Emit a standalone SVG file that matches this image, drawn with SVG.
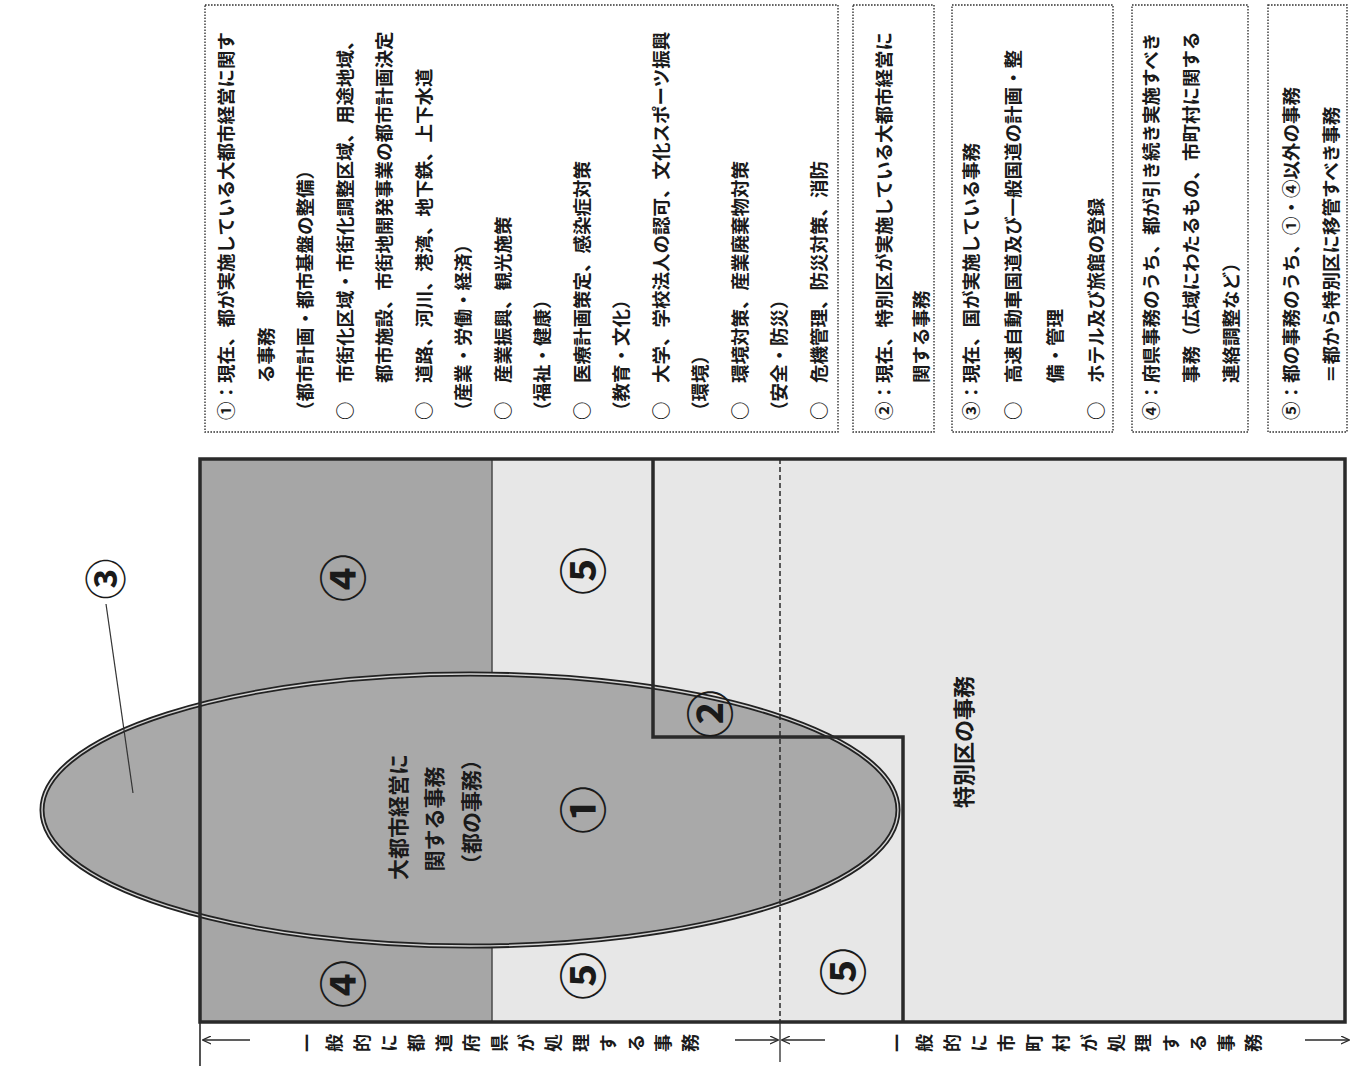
<svg xmlns="http://www.w3.org/2000/svg" width="1356" height="1066" viewBox="0 0 1356 1066">
<style>
.t{font-family:"Noto Sans CJK JP","Noto Sans CJK SC",sans-serif;fill:#1a1a1a;font-weight:bold;}
.bx{font-size:18.5px;dominant-baseline:central;}
.box{fill:#fff;stroke:#333;stroke-width:1.4;stroke-dasharray:1.6 1.4;}
.num{font-size:48px;text-anchor:middle;dominant-baseline:central;}
.mid{font-size:21px;text-anchor:middle;dominant-baseline:central;}
.lbl{font-size:18px;writing-mode:vertical-rl;letter-spacing:9.4px;}
.edge{stroke:#2a2a2a;fill:none;}
</style>
<defs>
<marker id="ah" viewBox="0 0 10 10" refX="9" refY="5" markerWidth="9" markerHeight="9" markerUnits="userSpaceOnUse" orient="auto">
<path d="M0,0.5 L9.5,5 L0,9.5" fill="none" stroke="#2a2a2a" stroke-width="1.4"/>
</marker>
</defs>
<rect width="1356" height="1066" fill="#fff"/>

<!-- text boxes -->
<g id="box1">
<rect class="box" x="205" y="5" width="633" height="427"/>
<g class="t bx">
<text transform="translate(225,420) rotate(-90)">①：現在、都が実施している大都市経営に関す</text>
<text transform="translate(264.5,383) rotate(-90)">る事務</text>
<text transform="translate(304,420) rotate(-90)">（都市計画・都市基盤の整備）</text>
<text transform="translate(343.5,420) rotate(-90)">○　市街化区域・市街化調整区域、用途地域、</text>
<text transform="translate(383,383) rotate(-90)">都市施設、市街地開発事業の都市計画決定</text>
<text transform="translate(422.5,420) rotate(-90)">○　道路、河川、港湾、地下鉄、上下水道</text>
<text transform="translate(462,420) rotate(-90)">（産業・労働・経済）</text>
<text transform="translate(501.5,420) rotate(-90)">○　産業振興、観光施策</text>
<text transform="translate(541,420) rotate(-90)">（福祉・健康）</text>
<text transform="translate(580.5,420) rotate(-90)">○　医療計画策定、感染症対策</text>
<text transform="translate(620,420) rotate(-90)">（教育・文化）</text>
<text transform="translate(659.5,420) rotate(-90)">○　大学、学校法人の認可、文化スポーツ振興</text>
<text transform="translate(699,420) rotate(-90)">（環境）</text>
<text transform="translate(738.5,420) rotate(-90)">○　環境対策、産業廃棄物対策</text>
<text transform="translate(778,420) rotate(-90)">（安全・防災）</text>
<text transform="translate(817.5,420) rotate(-90)">○　危機管理、防災対策、消防</text>
</g>
</g>
<g id="box2">
<rect class="box" x="853" y="5" width="81" height="427"/>
<g class="t bx">
<text transform="translate(883,420) rotate(-90)">②：現在、特別区が実施している大都市経営に</text>
<text transform="translate(920,383) rotate(-90)">関する事務</text>
</g>
</g>
<g id="box3">
<rect class="box" x="952" y="5" width="161" height="427"/>
<g class="t bx">
<text transform="translate(970,420) rotate(-90)">③：現在、国が実施している事務</text>
<text transform="translate(1012,420) rotate(-90)">○　高速自動車国道及び一般国道の計画・整</text>
<text transform="translate(1054,383) rotate(-90)">備・管理</text>
<text transform="translate(1095,420) rotate(-90)">○　ホテル及び旅館の登録</text>
</g>
</g>
<g id="box4">
<rect class="box" x="1132" y="5" width="116" height="427"/>
<g class="t bx">
<text transform="translate(1150,420) rotate(-90)">④：府県事務のうち、都が引き続き実施すべき</text>
<text transform="translate(1190,383) rotate(-90)">事務（広域にわたるもの、市町村に関する</text>
<text transform="translate(1230,383) rotate(-90)">連絡調整など）</text>
</g>
</g>
<g id="box5">
<rect class="box" x="1268" y="5" width="79" height="427"/>
<g class="t bx">
<text transform="translate(1290,420) rotate(-90)">⑤：都の事務のうち、①・④以外の事務</text>
<text transform="translate(1330,383) rotate(-90)">＝都から特別区に移管すべき事務</text>
</g>
</g>

<!-- diagram regions -->
<g id="region-tokubetsuku">
<rect x="492" y="459" width="853" height="563" fill="#e7e7e7"/>
<text class="t" font-size="22" text-anchor="middle" dominant-baseline="central" transform="translate(962,742) rotate(-90)">特別区の事務</text>
</g>
<g id="region-4">
<rect x="200" y="459" width="292" height="563" fill="#a6a6a6"/>
<line x1="492" y1="459" x2="492" y2="1022" stroke="#4a4a4a" stroke-width="1.5"/>
</g>
<g id="ellipse-1">
<ellipse cx="470" cy="810" rx="428" ry="136" fill="#a9a9a9" stroke="#222" stroke-width="5"/>
<ellipse cx="470" cy="810" rx="428" ry="136" fill="none" stroke="#d4d4d4" stroke-width="1.4"/>
<g class="t mid">
<text transform="translate(397,817) rotate(-90)">大都市経営に</text>
<text transform="translate(433,819) rotate(-90)">関する事務</text>
<text transform="translate(470,812) rotate(-90)">（都の事務）</text>
</g>
</g>

<!-- connectors / lines -->
<g id="connectors">
<rect x="200" y="459" width="1145" height="563" class="edge" stroke-width="3.5"/>
<path d="M653,459 V737 H903 V1022" class="edge" stroke-width="3.5"/>
<line x1="780" y1="459" x2="780" y2="1022" stroke="#2a2a2a" stroke-width="1.5" stroke-dasharray="5 3"/>
<line x1="106" y1="604" x2="133" y2="793" stroke="#333" stroke-width="1.2"/>
<line x1="200" y1="1022" x2="200" y2="1066" stroke="#2a2a2a" stroke-width="1.6"/>
<line x1="780" y1="1022" x2="780" y2="1062" stroke="#2a2a2a" stroke-width="1.3"/>
<line x1="250" y1="1040" x2="203" y2="1040" stroke="#2a2a2a" stroke-width="1.4" marker-end="url(#ah)"/>
<line x1="735" y1="1040" x2="778" y2="1040" stroke="#2a2a2a" stroke-width="1.4" marker-end="url(#ah)"/>
<line x1="825" y1="1040" x2="782" y2="1040" stroke="#2a2a2a" stroke-width="1.4" marker-end="url(#ah)"/>
<line x1="1305" y1="1040" x2="1349" y2="1040" stroke="#2a2a2a" stroke-width="1.4" marker-end="url(#ah)"/>
</g>

<!-- circled labels -->
<g id="label-4" class="t num">
<text transform="translate(340,578) rotate(-90)">④</text>
<text transform="translate(340,984) rotate(-90)">④</text>
</g>
<g id="label-5" class="t num">
<text transform="translate(580,571) rotate(-90)">⑤</text>
<text transform="translate(580,976) rotate(-90)">⑤</text>
<text transform="translate(840,972) rotate(-90)">⑤</text>
</g>
<g id="label-1" class="t num">
<text transform="translate(580,810) rotate(-90)">①</text>
</g>
<g id="label-2" class="t num">
<text transform="translate(707,714) rotate(-90)">②</text>
</g>
<g id="label-3" class="t num">
<text transform="translate(103,579) rotate(-90)" font-size="41">③</text>
</g>

<!-- scale labels -->
<g id="scale-labels" class="t lbl">
<text transform="translate(298,1043) rotate(-90)">一般的に都道府県が処理する事務</text>
<text transform="translate(888,1043) rotate(-90)">一般的に市町村が処理する事務</text>
</g>
</svg>
